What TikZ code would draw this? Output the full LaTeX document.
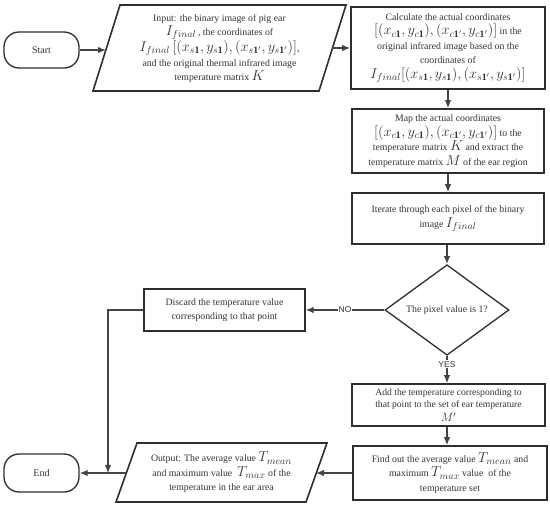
\documentclass[tikz,border=0pt]{standalone}
\usepackage{fontspec}
\setmainfont{Liberation Serif}
\newfontfamily\lsans{Liberation Sans}
\usetikzlibrary{arrows.meta,shapes.geometric}
\newcommand{\mth}[1]{{\fontsize{14}{14}\selectfont$#1$}}
\newcommand{\mths}[1]{{\fontsize{12}{12}\selectfont$#1$}}
\definecolor{edgec}{HTML}{2E2E2E}
\definecolor{linec}{HTML}{444444}
\definecolor{txtc}{HTML}{333333}
\begin{document}
\begin{tikzpicture}[x=1pt,y=-1pt,
  every node/.style={text=txtc},
  boxn/.style={draw=edgec, line width=1.6pt, inner sep=0pt, align=center,
     font=\fontsize{9.8}{14.5}\selectfont},
  txt/.style={inner sep=0pt, align=center, font=\fontsize{9.8}{14.5}\selectfont},
  term/.style={draw=edgec, line width=1.3pt, rounded corners=15pt, inner sep=0pt,
     minimum width=75pt, font=\fontsize{10}{12}\selectfont},
  conn/.style={draw=linec, line width=1.3pt, -{Latex[length=8pt,width=6.5pt]}},
  lab/.style={fill=white, inner sep=1pt, font=\lsans\fontsize{8.5}{10}\selectfont}
]
\useasboundingbox (0,0) rectangle (550,508);

% Start / End
\node[term, minimum height=36pt] (start) at (41.5,50) {Start};
\node[term, minimum height=38pt] (end) at (41.5,473) {End};

% Input parallelogram
\coordinate (inA) at (93,91);
\coordinate (inB) at (120,5);
\coordinate (inC) at (346,5);
\coordinate (inD) at (319,91);
\draw[draw=edgec, line width=1.6pt] (inA) -- (inB) -- (inC) -- (inD) -- cycle;
\node[txt] (in) at (219.5,48.5) {Input: the binary image of pig ear\\
  \mth{I_{final}}\,, the coordinates of\\
  \mth{I_{final}\,[(x_{s\mathbf{1}},y_{s\mathbf{1}}),(x_{s\mathbf{1}'},y_{s\mathbf{1}'})]},\\
  and the original thermal infrared image\\
  temperature matrix \mth{K}};
\coordinate (inL) at (106,50);
\coordinate (inR) at (332,48);

% Calc box
\node[boxn, minimum width=194pt, minimum height=82pt] (calc) at (448,48)
 {Calculate the actual coordinates\\
  \mth{[(x_{c\mathbf{1}},y_{c\mathbf{1}}),(x_{c\mathbf{1}'},y_{c\mathbf{1}'})]} in the\\
  original infrared image based on the\\
  coordinates of\\
  \mth{I_{final}[(x_{s\mathbf{1}},y_{s\mathbf{1}}),(x_{s\mathbf{1}'},y_{s\mathbf{1}'})]}};

% Map box
\node[boxn, minimum width=192pt, minimum height=64pt] (map) at (448,141)
 {Map the actual coordinates\\
  \mth{[(x_{c\mathbf{1}},y_{c\mathbf{1}}),(x_{c\mathbf{1}'},y_{c\mathbf{1}'})]} to the\\
  temperature matrix \mth{K} and extract the\\
  temperature matrix \mth{M} of the ear region};

% Iterate box
\node[boxn, minimum width=192pt, minimum height=51pt] (iter) at (448,218.5)
 {Iterate through each pixel of the binary\\
  image \mth{I_{final}}};

% Diamond
\node[draw=edgec, line width=1.3pt, diamond, inner sep=0pt, minimum width=124pt,
  minimum height=72pt, font=\fontsize{9.8}{12}\selectfont] (dec) at (447,310)
  {The pixel value is 1?};

% Discard
\node[boxn, line width=1.3pt, minimum width=161pt, minimum height=42pt] (disc) at (224.5,310)
 {Discard the temperature value\\ corresponding to that point};

% Add
\node[boxn, minimum width=193pt, minimum height=42pt,
  font=\fontsize{9.6}{12}\selectfont] (add) at (448.5,405)
 {Add the temperature corresponding to\\
  that point to the set of ear temperature\\[2.5pt]
  \mths{M'}};

% Find
\node[boxn, minimum width=194pt, minimum height=54pt] (find) at (450,473)
 {Find out the average value \mth{T_{mean}} and\\
  maximum \mth{T_{max}} value\ \ of the\\
  temperature set};

% Output parallelogram
\coordinate (outA) at (116,502);
\coordinate (outB) at (137,443);
\coordinate (outC) at (327,443);
\coordinate (outD) at (306,502);
\draw[draw=edgec, line width=1.6pt] (outA) -- (outB) -- (outC) -- (outD) -- cycle;
\node[txt] (out) at (221.5,472.5)
 {Output: The average value \mth{T_{mean}}\\
  and maximum value\ \ \mth{T_{max}} of the\\
  temperature in the ear area};
\coordinate (outR) at (316,473);
\coordinate (outL) at (126,473);

% connectors
\draw[conn] (start.east) -- (inL);
\draw[conn] (inR) -- (calc.west |- inR);
\draw[conn] (calc.south -| map.north) -- (map.north);
\draw[conn] (map.south) -- (iter.north);
\draw[conn] (iter.south -| dec.north) -- (dec.north);
\draw[conn] (dec.west) -- node[lab] (no) {NO} (disc.east);
\draw[conn] (dec.south) -- node[lab, pos=0.3] (yes) {YES} (add.north -| dec.south);
\draw[conn] (add.south -| dec.south) -- (find.north -| dec.south);
\draw[conn] (find.west |- outR) -- (outR);
\draw[conn] (outL) -- (end.east);
\coordinate (jn) at (108,310);
\coordinate (jd) at (108,473);
\draw[conn] (disc.west) -- (jn) -- (jd);
\end{tikzpicture}
\end{document}
